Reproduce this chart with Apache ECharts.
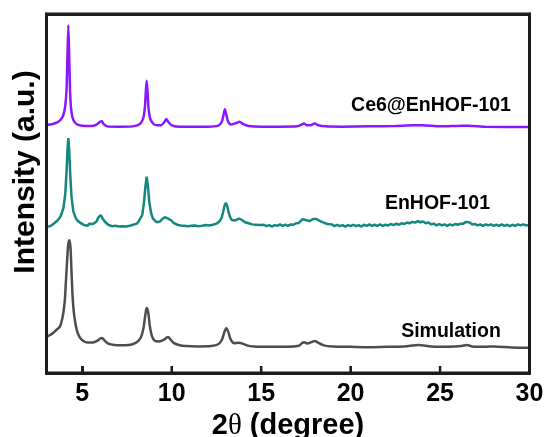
<!DOCTYPE html>
<html>
<head>
<meta charset="utf-8">
<script src="https://cdn.jsdelivr.net/npm/echarts@6/dist/echarts.min.js"></script>
<style>html,body{margin:0;padding:0;background:#fff;}#c{width:552px;height:437px;}</style>
</head>
<body>
<div id="c"></div>
<script>
const xTicks = [5, 10, 15, 20, 25, 30];
const seriesNames = ['Simulation', 'EnHOF-101', 'Ce6@EnHOF-101'];

const simulation = [
[3.0,10.1],[3.2,10.6],[3.4,11.3],[3.6,12.2],[3.75,12.9],[3.85,14.5],[3.94,16.7],[4.02,20],[4.09,25.9],[4.16,32],[4.22,36],[4.28,37.0],[4.34,35],[4.4,28],[4.46,21.2],[4.55,16],[4.69,12.0],[4.85,10.0],[5.06,8.9],[5.3,8.5],[5.6,8.5],[5.85,9.0],[6.0,9.6],[6.1,9.75],[6.25,9.0],[6.45,8.2],[6.8,7.8],[7.2,7.7],[7.6,7.8],[7.9,8.2],[8.15,9.0],[8.3,10.2],[8.42,12.5],[8.52,16],[8.6,18.1],[8.68,17],[8.78,13],[8.9,10.2],[9.05,9.0],[9.3,8.8],[9.55,9.2],[9.7,9.8],[9.8,10.0],[9.92,9.4],[10.1,8.4],[10.4,7.8],[10.8,7.5],[11.5,7.4],[12.2,7.5],[12.6,8.0],[12.8,9.2],[12.95,11.5],[13.05,12.5],[13.15,11.6],[13.3,9.3],[13.5,8.3],[13.75,8.4],[13.9,8.3],[14.2,7.7],[14.6,7.4],[15.5,7.3],[16.5,7.3],[17.1,7.6],[17.3,8.4],[17.4,8.6],[17.6,8.2],[17.8,8.6],[18.0,8.9],[18.2,8.4],[18.5,7.7],[19.0,7.4],[20.0,7.3],[21.0,7.2],[22.0,7.3],[23.0,7.4],[23.8,7.8],[24.5,7.4],[25.5,7.3],[26.2,7.5],[26.5,7.8],[26.8,7.4],[27.5,7.3],[28.0,7.4],[29.0,7.1],[30.0,7.0]
];

const enhof = [
[3.0,40.8],[3.1,41.1],[3.2,40.9],[3.3,41.4],[3.4,41.6],[3.5,41.9],[3.6,42.4],[3.7,43.0],[3.8,43.8],[3.95,46],[4.05,50],[4.12,56],[4.18,63],[4.22,65.4],[4.27,62],[4.33,55],[4.4,49],[4.5,45],[4.6,43.6],[4.7,42.6],[4.8,42.4],[4.9,41.8],[5.0,41.7],[5.1,41.2],[5.2,41.5],[5.3,41.0],[5.4,41.6],[5.5,41.2],[5.6,41.5],[5.7,41.6],[5.8,42.2],[5.88,43.2],[5.95,43.6],[6.03,44.0],[6.1,43.3],[6.18,43.0],[6.25,42.2],[6.35,41.9],[6.45,41.3],[6.55,41.5],[6.65,40.9],[6.75,41.3],[6.85,41.0],[6.95,41.4],[7.05,40.8],[7.15,41.2],[7.25,40.9],[7.35,41.3],[7.45,40.8],[7.55,41.2],[7.65,41.0],[7.75,41.5],[7.85,41.3],[7.95,41.8],[8.05,41.6],[8.15,42.2],[8.25,42.6],[8.35,44],[8.45,47.5],[8.53,52],[8.6,54.7],[8.67,52],[8.75,47.5],[8.85,44.5],[8.95,43.0],[9.05,42.5],[9.15,42.0],[9.25,42.3],[9.35,42.2],[9.45,42.8],[9.55,43.0],[9.62,43.4],[9.7,43.2],[9.8,43.0],[9.9,42.5],[10.0,42.4],[10.1,41.8],[10.2,41.9],[10.3,41.3],[10.4,41.5],[10.5,41.1],[10.6,41.4],[10.7,41.0],[10.8,41.4],[10.9,40.9],[11.0,41.2],[11.1,41.0],[11.2,41.4],[11.3,41.1],[11.4,41.3],[11.5,40.9],[11.6,41.3],[11.7,41.0],[11.8,41.5],[11.9,41.2],[12.0,41.4],[12.1,41.1],[12.2,41.5],[12.3,41.3],[12.4,41.7],[12.5,41.6],[12.6,42.0],[12.7,42.4],[12.8,43.4],[12.88,45.0],[12.95,46.6],[13.03,47.4],[13.1,46.5],[13.17,45.0],[13.25,43.6],[13.35,42.6],[13.45,42.3],[13.55,42.5],[13.65,42.7],[13.75,43.0],[13.82,42.8],[13.9,42.7],[14.0,42.2],[14.1,42.0],[14.2,41.6],[14.3,41.7],[14.4,41.2],[14.5,41.4],[14.6,41.0],[14.7,41.3],[14.8,40.9],[14.9,41.2],[15.0,40.9],[15.15,41.3],[15.3,40.9],[15.45,41.2],[15.6,40.8],[15.75,41.2],[15.9,41.0],[16.05,41.4],[16.2,41.0],[16.35,41.3],[16.5,41.0],[16.65,41.4],[16.8,41.3],[16.95,41.7],[17.1,41.8],[17.2,42.2],[17.3,42.8],[17.4,43.3],[17.5,42.6],[17.6,42.2],[17.7,42.3],[17.8,42.5],[17.9,42.9],[18.0,42.6],[18.08,42.9],[18.18,42.4],[18.3,42.3],[18.4,41.8],[18.5,41.9],[18.6,41.4],[18.7,41.5],[18.8,41.1],[18.95,41.4],[19.1,40.9],[19.25,41.3],[19.4,40.9],[19.55,41.2],[19.7,40.8],[19.85,41.2],[20.0,40.9],[20.15,41.3],[20.3,40.9],[20.45,41.2],[20.6,40.8],[20.75,41.3],[20.9,41.0],[21.05,41.4],[21.2,41.0],[21.35,41.3],[21.5,41.0],[21.65,41.4],[21.8,41.0],[21.95,41.3],[22.1,41.1],[22.25,41.5],[22.4,41.2],[22.55,41.6],[22.7,41.3],[22.85,41.7],[23.0,41.5],[23.15,41.9],[23.3,41.7],[23.45,42.1],[23.6,41.9],[23.75,42.3],[23.9,42.0],[24.05,42.2],[24.2,41.7],[24.35,41.9],[24.5,41.4],[24.65,41.6],[24.8,41.1],[24.95,41.5],[25.1,41.1],[25.25,41.4],[25.4,41.0],[25.55,41.4],[25.7,41.1],[25.85,41.5],[26.0,41.3],[26.15,41.6],[26.3,41.6],[26.45,42.1],[26.55,41.8],[26.65,41.9],[26.8,41.4],[26.95,41.5],[27.1,41.1],[27.25,41.4],[27.4,41.0],[27.55,41.4],[27.7,41.1],[27.85,41.4],[28.0,41.0],[28.15,41.3],[28.3,41.0],[28.45,41.4],[28.6,41.0],[28.75,41.3],[28.9,40.9],[29.05,41.3],[29.2,41.0],[29.35,41.4],[29.5,41.1],[29.65,41.4],[29.8,41.1],[30.0,41.3]
];

const ce6 = [
[3.0,69.1],[3.3,69.3],[3.6,69.8],[3.8,70.6],[3.95,72.0],[4.05,74.5],[4.12,79],[4.17,88],[4.22,96.9],[4.27,88],[4.32,78],[4.4,72.5],[4.5,70.5],[4.7,69.3],[5.0,68.9],[5.5,68.8],[5.8,69.2],[5.95,69.8],[6.08,70.2],[6.2,69.3],[6.4,68.7],[7.0,68.6],[7.8,68.7],[8.2,69.3],[8.4,70.8],[8.5,74],[8.56,79],[8.6,81.4],[8.64,79],[8.7,74],[8.8,70.8],[9.0,69.3],[9.4,69.0],[9.6,70.0],[9.7,70.75],[9.8,70.0],[10.0,69.0],[10.5,68.6],[12.0,68.6],[12.6,68.9],[12.8,70.0],[12.9,72.0],[12.97,73.45],[13.05,72.0],[13.15,70],[13.3,69.2],[13.6,69.6],[13.8,70.0],[14.0,69.3],[14.3,68.8],[15,68.6],[16,68.6],[17.0,68.7],[17.25,69.2],[17.4,69.5],[17.55,69.0],[17.75,69.0],[18.0,69.5],[18.2,69.0],[18.6,68.7],[19.5,68.6],[21,68.7],[22.5,68.8],[23.5,69.0],[24.0,69.0],[25,68.7],[26.3,68.9],[26.6,68.9],[27.5,68.6],[30,68.5]
];

const colors = ['#4d4d4d', '#14877f', '#8a17ff'];
const frameColor = '#1c1c1c';
const chart = echarts.init(document.getElementById('c'), null, {renderer: 'canvas'});
const labelFont = 'Liberation Sans, Arial, sans-serif';
function frameLine() { return {show: true, onZero: false, lineStyle: {color: frameColor, width: 3}}; }

chart.setOption({
  animation: false,
  backgroundColor: '#fff',
  grid: {left: 46.5, top: 14, right: 22.5, bottom: 64, containLabel: false, outerBoundsMode: 'none'},
  xAxis: [{
    type: 'value', min: 3, max: 30, position: 'bottom',
    axisLine: frameLine(),
    axisTick: {show: true, inside: true, length: 7, lineStyle: {color: frameColor, width: 2}},
    axisLabel: {show: true, color: '#000', fontSize: 25, fontWeight: 'bold', fontFamily: labelFont, margin: 9, customValues: xTicks},
    splitLine: {show: false},
    name: '{a|2}{b|θ}{a| (degree)}',
    nameLocation: 'middle', nameGap: 18,
    nameTextStyle: {rich: {
      a: {fontSize: 29, fontWeight: 'bold', fontFamily: labelFont, color: '#000'},
      b: {fontSize: 29, fontFamily: 'Liberation Serif, serif', color: '#000'}
    }}
  }, {
    type: 'value', min: 3, max: 30, position: 'top',
    axisLine: frameLine(), axisTick: {show: false}, axisLabel: {show: false}, splitLine: {show: false}
  }],
  yAxis: [{
    type: 'value', min: 0, max: 100, position: 'left',
    axisLine: frameLine(),
    axisTick: {show: false}, axisLabel: {show: false}, splitLine: {show: false}
  }, {
    type: 'value', min: 0, max: 100, position: 'right',
    axisLine: frameLine(),
    axisTick: {show: false}, axisLabel: {show: false}, splitLine: {show: false}
  }],
  series: [
    {name: seriesNames[0], type: 'line', data: simulation, showSymbol: false, smooth: 0.3, lineStyle: {color: colors[0], width: 2.5}},
    {name: seriesNames[1], type: 'line', data: enhof, showSymbol: false, smooth: false, lineStyle: {color: colors[1], width: 2.5}},
    {name: seriesNames[2], type: 'line', data: ce6, showSymbol: false, smooth: 0.2, lineStyle: {color: colors[2], width: 2.5}}
  ]
});

// Frame and ticks placed through the library's own scales
const pMin = chart.convertToPixel({xAxisIndex: 0, yAxisIndex: 0}, [3, 0]);
const pMax = chart.convertToPixel({xAxisIndex: 0, yAxisIndex: 0}, [30, 100]);
const overlay = [
  {type: 'rect', z: 100, silent: true,
   shape: {x: pMin[0], y: pMax[1], width: pMax[0] - pMin[0], height: pMin[1] - pMax[1]},
   style: {fill: null, stroke: frameColor, lineWidth: 3}}
];
xTicks.forEach(function (v) {
  const p = chart.convertToPixel({xAxisIndex: 0, yAxisIndex: 0}, [v, 0]);
  overlay.push({type: 'line', z: 100, silent: true,
    shape: {x1: p[0], y1: p[1], x2: p[0], y2: p[1] - 7},
    style: {stroke: frameColor, lineWidth: 2.5}});
});
const texts = [
  {type: 'text', z: 100, x: 26, y: 172, rotation: Math.PI / 2, style: {text: 'Intensity (a.u.)', align: 'center', verticalAlign: 'middle', font: 'bold 30px ' + labelFont, fill: '#000'}},
  {type: 'text', z: 100, x: 451, y: 332, style: {text: seriesNames[0], align: 'center', verticalAlign: 'middle', font: 'bold 19.5px ' + labelFont, fill: '#000'}},
  {type: 'text', z: 100, x: 437.5, y: 204, style: {text: seriesNames[1], align: 'center', verticalAlign: 'middle', font: 'bold 19.5px ' + labelFont, fill: '#000'}},
  {type: 'text', z: 100, x: 431, y: 106, style: {text: seriesNames[2], align: 'center', verticalAlign: 'middle', font: 'bold 19.5px ' + labelFont, fill: '#000'}}
];
chart.setOption({graphic: overlay.concat(texts)});
</script>
</body>
</html>
